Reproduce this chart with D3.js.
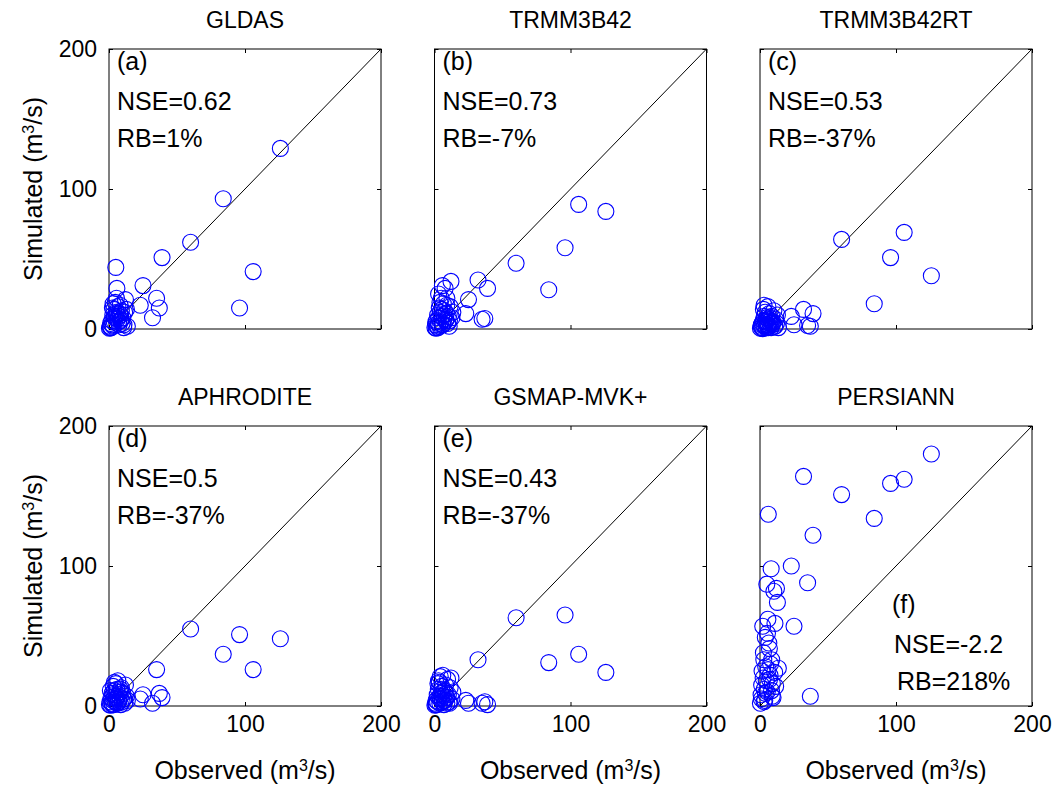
<!DOCTYPE html>
<html>
<head>
<meta charset="utf-8">
<style>
    body { margin: 0; background: #fff; }
    svg { font-family: 'Liberation Sans', Arial, sans-serif; }
    .axis path { display: none; }
    .axis line { stroke: #000; stroke-width: 1; }
    .axis text { font-size: 23px; fill: #000; font-family: 'Liberation Sans', Arial, sans-serif; }
</style>
</head>
<body>
<svg width="1059" height="789"></svg>

<script src="https://d3js.org/d3.v7.min.js"></script>
<script>
    // observed discharge (shared by all panels), m3/s
    let observed = [126, 106, 96, 84, 60, 39, 37, 35, 32, 25, 23,
        0.3, 0.8, 1.2, 1.5, 2.0, 2.3, 2.8, 3.1, 3.5, 3.9,
        4.2, 4.6, 5.0, 5.3, 5.8, 6.1, 6.5, 6.9, 7.4, 7.8,
        8.2, 8.6, 9.1, 9.6, 10.2, 10.8, 11.5, 12.1, 12.8, 13.5,
        1.0, 2.5, 4.0, 5.5, 7.0, 8.5, 3.0, 6.0, 9.0, 11.0]

    // simulated discharge for each forcing product
    let simGLDAS = [129, 41, 15, 93, 62, 51, 15, 22, 8, 31, 17,
        0.5, 2, 4, 1, 6, 3, 10, 2, 14, 5,
        8, 19, 44, 12, 29, 7, 16, 9, 3, 11,
        17, 6, 13, 4, 8, 1, 12, 21, 14, 2,
        1, 15, 9, 22, 5, 10, 18, 11, 7, 3]
    let simTRMM = [84, 89, 58, 28, 47, 29, 7.5, 7, 35, 21, 11,
        1, 3, 0.5, 6, 2, 10, 4, 8, 15, 2,
        12, 5, 22, 9, 31, 3, 18, 7, 13, 29,
        6, 11, 22, 4, 9, 2, 16, 34, 8, 12,
        5, 1, 19, 14, 10, 7, 25, 3, 17, 6]
    let simTRMMRT = [38, 69, 51, 18, 64, 11, 2, 2.5, 14, 3, 9,
        0.5, 2, 1, 4, 0.3, 6, 3, 9, 2, 12,
        5, 1, 8, 3, 16, 7, 2, 11, 4, 6,
        1, 9, 3, 5, 13, 2, 7, 4, 10, 1,
        3, 14, 6, 2, 8, 5, 17, 1, 4, 2]
    let simAPHRO = [48, 26, 51, 37, 55, 6, 9, 26, 2, 8, 5,
        1, 3, 0.5, 6, 2, 9, 4, 14, 1, 11,
        7, 3, 16, 5, 12, 2, 18, 8, 4, 10,
        6, 1, 13, 3, 9, 5, 2, 15, 7, 4,
        11, 1, 17, 6, 3, 12, 8, 2, 10, 5]
    let simGSMAP = [24, 37, 65, 31, 63, 1, 3, 2, 33, 2, 4,
        0.5, 2, 4, 1, 8, 3, 12, 6, 17, 2,
        21, 5, 9, 14, 3, 22, 7, 1, 11, 4,
        15, 6, 2, 19, 8, 3, 13, 20, 5, 10,
        1, 16, 7, 12, 4, 9, 18, 3, 6, 2]
    let simPERSIANN = [180, 162, 159, 134, 151, 122, 7, 88, 164, 57, 100,
        2, 8, 15, 25, 57, 20, 33, 12, 4, 49,
        28, 18, 87, 10, 62, 137, 45, 41, 22, 30,
        98, 33, 16, 6, 82, 24, 14, 84, 74, 27,
        5, 38, 9, 52, 19, 11, 3, 26, 7, 59]

    let titles = ["GLDAS", "TRMM3B42", "TRMM3B42RT", "APHRODITE", "GSMAP-MVK+", "PERSIANN"]
    let letters = ["(a)", "(b)", "(c)", "(d)", "(e)", "(f)"]
    let nse = ["0.62", "0.73", "0.53", "0.5", "0.43", "-2.2"]
    let rb = ["1%", "-7%", "-37%", "-37%", "-37%", "218%"]
    let ticks = [0, 100, 200]

    let sims = [simGLDAS, simTRMM, simTRMMRT, simAPHRO, simGSMAP, simPERSIANN]

    let svg = d3.select("svg")

    let pw = 272, ph = 280
    let colX = d3.scaleLinear().domain([0, 2]).range([109, 760])
    let rowY = d3.scaleLinear().domain([0, 1]).range([49, 426])

    let x = d3.scaleLinear().domain([0, 200]).range([0, pw])
    let y = d3.scaleLinear().domain([0, 200]).range([ph, 0])

    titles.forEach(function (title, i) {
        let col = i % 3, row = Math.floor(i / 3)
        let g = svg.append("g")
            .attr("transform", "translate(" + colX(col) + "," + rowY(row) + ")")

        // frame
        g.append("rect")
            .attr("width", pw).attr("height", ph)
            .style("fill", "none").style("stroke", "#000").style("stroke-width", 1)

        // inward ticks on all four sides
        g.append("g").attr("class", "axis")
            .attr("transform", "translate(0," + ph + ")")
            .call(d3.axisBottom(x).tickValues(ticks).tickSizeInner(-4).tickSizeOuter(0).tickPadding(10)
                .tickFormat(row == 1 ? d3.format("d") : ""))
        g.append("g").attr("class", "axis")
            .call(d3.axisTop(x).tickValues(ticks).tickSizeInner(-4).tickSizeOuter(0).tickFormat(""))
        g.append("g").attr("class", "axis")
            .call(d3.axisLeft(y).tickValues(ticks).tickSizeInner(-4).tickSizeOuter(0).tickPadding(12)
                .tickFormat(col == 0 ? d3.format("d") : ""))
        g.append("g").attr("class", "axis")
            .attr("transform", "translate(" + pw + ",0)")
            .call(d3.axisRight(y).tickValues(ticks).tickSizeInner(-4).tickSizeOuter(0).tickFormat(""))

        // 1:1 line
        g.append("line")
            .attr("x1", x(0)).attr("y1", y(0))
            .attr("x2", x(200)).attr("y2", y(200))
            .style("stroke", "#000").style("stroke-width", 1)

        let pts = observed.map(function (o, k) { return { obs: o, sim: sims[i][k] } })

        g.selectAll(".pt")
            .data(pts)
            .join("circle")
            .attr("class", "pt")
            .attr("cx", function (d) { return x(d.obs) })
            .attr("cy", function (d) { return y(d.sim) })
            .attr("r", 8)
            .style("fill", "none")
            .style("stroke", "#0000ff")
            .style("stroke-width", 1.1)

        // title
        g.append("text")
            .attr("x", pw / 2).attr("y", -21)
            .attr("text-anchor", "middle")
            .style("font-size", "23px")
            .text(title)

        // annotation
        let ax = 8, ay = 21
        if (i == 5) { ax = 132; ay = 187 }
        let ann = g.append("g").style("font-size", "25px")
        ann.append("text").attr("x", ax).attr("y", ay).text(letters[i])
        ann.append("text").attr("x", ax + (i == 5 ? 2 : 0)).attr("y", ay + 40).text("NSE=" + nse[i])
        ann.append("text").attr("x", ax + (i == 5 ? 5 : 0)).attr("y", ay + 77).text("RB=" + rb[i])

        // axis labels
        if (col == 0) {
            let t = g.append("text")
                .attr("transform", "translate(-67," + (ph / 2) + ") rotate(-90)")
                .attr("text-anchor", "middle")
                .style("font-size", "25px")
            t.append("tspan").text("Simulated (m")
            t.append("tspan").attr("baseline-shift", "super").style("font-size", "16px").text("3")
            t.append("tspan").text("/s)")
        }
        if (row == 1) {
            let t = g.append("text")
                .attr("x", pw / 2).attr("y", ph + 73)
                .attr("text-anchor", "middle")
                .style("font-size", "25px")
            t.append("tspan").text("Observed (m")
            t.append("tspan").attr("baseline-shift", "super").style("font-size", "16px").text("3")
            t.append("tspan").text("/s)")
        }
    })
</script>
</body>
</html>
